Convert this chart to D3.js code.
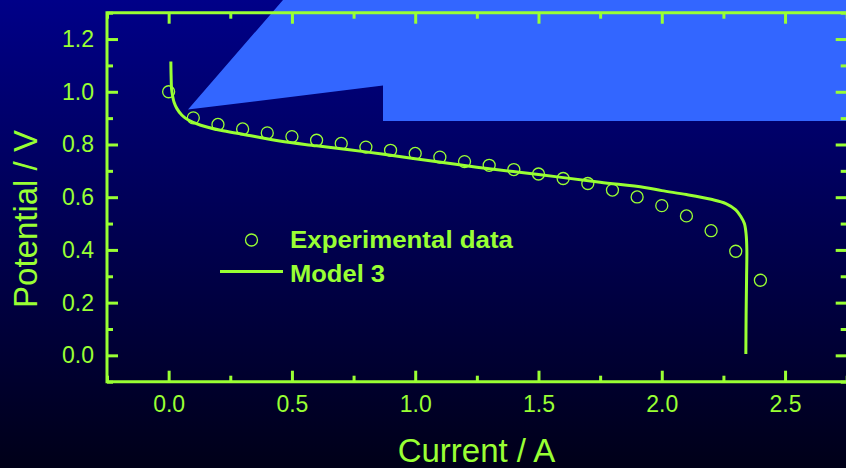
<!DOCTYPE html>
<html><head><meta charset="utf-8">
<script src="https://cdn.jsdelivr.net/npm/d3@7"></script>
<style>html,body{margin:0;padding:0;background:#000040;} svg{display:block}</style>
</head><body>
<svg id="chart" width="846" height="468"></svg>
<script>
// ---- data ----
const expCurrent = [0.0,0.1,0.2,0.3,0.4,0.5,0.6,0.7,0.8,0.9,1.0,1.1,1.2,1.3,1.4,1.5,1.6,1.7,1.8,1.9,2.0,2.1,2.2,2.3,2.4];
const expPotential = [1.00,0.901,0.876,0.859,0.844,0.830,0.816,0.804,0.790,0.778,0.766,0.752,0.735,0.721,0.705,0.688,0.671,0.652,0.627,0.601,0.568,0.529,0.473,0.395,0.285];
const modelCurrent = [0.009,0.010,0.012,0.016,0.022,0.033,0.054,0.080,0.13,0.21,0.30,0.45,0.60,0.80,1.00,1.25,1.50,1.75,1.93,2.00,2.10,2.20,2.26,2.30,2.32,2.335,2.342,2.345,2.344,2.342,2.341];
const modelPotential = [1.115,1.06,1.01,0.985,0.960,0.937,0.911,0.893,0.873,0.854,0.839,0.813,0.795,0.772,0.746,0.714,0.686,0.657,0.637,0.625,0.610,0.592,0.576,0.552,0.528,0.500,0.460,0.40,0.30,0.15,0.005];
const xTicks = [0.0,0.5,1.0,1.5,2.0,2.5];
const xMinorTicks = [-0.25,0.25,0.75,1.25,1.75,2.25,2.75];
const yTicks = [0.0,0.2,0.4,0.6,0.8,1.0,1.2];
const yMinorTicks = [-0.1,0.1,0.3,0.5,0.7,0.9,1.1,1.3];
const legendLabels = ["Experimental data","Model 3"];
const xTitle = "Current / A";
const yTitle = "Potential / V";

// ---- layout ----
const W = 846, H = 468;
const green = "#99ff33";
const svg = d3.select("#chart");
const defs = svg.append("defs");
const grad = defs.append("linearGradient").attr("id","bg").attr("x1",0).attr("y1",0).attr("x2",0).attr("y2",1);
grad.append("stop").attr("offset","0%").attr("stop-color","#000088");
grad.append("stop").attr("offset","100%").attr("stop-color","#000018");
svg.append("rect").attr("width",W).attr("height",H).attr("fill","url(#bg)");

// decorative callout shape
svg.append("polygon")
  .attr("points","283,0 846,0 846,121 383,121 383,85.5 188,109.5")
  .attr("fill","#3366ff");

const x = d3.scaleLinear().domain([-0.25,2.75]).range([107,846.7]);
const y = d3.scaleLinear().domain([-0.1,1.3]).range([381.7,12.7]);
const font = "'Liberation Sans', Arial, sans-serif";

function styleAxis(g){
  g.select(".domain").remove();
  g.selectAll("line").attr("stroke",green).attr("stroke-width",3);
  g.selectAll("text").attr("fill",green).attr("font-family",font).attr("font-size",23);
}
// bottom
svg.append("g").attr("transform",`translate(0,${y.range()[0]})`)
  .call(d3.axisBottom(x).tickValues(xTicks).tickSize(-11).tickPadding(14).tickFormat(d3.format(".1f"))).call(styleAxis);
svg.append("g").attr("transform",`translate(0,${y.range()[0]})`)
  .call(d3.axisBottom(x).tickValues(xMinorTicks).tickSize(-6).tickFormat("")).call(styleAxis);
// top
svg.append("g").attr("transform",`translate(0,${y.range()[1]})`)
  .call(d3.axisTop(x).tickValues(xTicks).tickSize(-11).tickFormat("")).call(styleAxis);
svg.append("g").attr("transform",`translate(0,${y.range()[1]})`)
  .call(d3.axisTop(x).tickValues(xMinorTicks).tickSize(-6).tickFormat("")).call(styleAxis);
// left
svg.append("g").attr("transform",`translate(${x.range()[0]},0)`)
  .call(d3.axisLeft(y).tickValues(yTicks).tickSize(-11).tickPadding(13).tickFormat(d3.format(".1f"))).call(styleAxis);
svg.append("g").attr("transform",`translate(${x.range()[0]},0)`)
  .call(d3.axisLeft(y).tickValues(yMinorTicks).tickSize(-6).tickFormat("")).call(styleAxis);
// right (axis line just past the visible edge)
svg.append("g").attr("transform",`translate(${x.range()[1]},0)`)
  .call(d3.axisRight(y).tickValues(yTicks).tickSize(-11).tickFormat("")).call(styleAxis);
svg.append("g").attr("transform",`translate(${x.range()[1]},0)`)
  .call(d3.axisRight(y).tickValues(yMinorTicks).tickSize(-6).tickFormat("")).call(styleAxis);

// frame (left, top, bottom; right edge falls outside the view)
const fx0 = x.range()[0], fx1 = x.range()[1] + 3, fy0 = y.range()[1], fy1 = y.range()[0];
svg.append("path")
  .attr("d",`M${fx1},${fy0}H${fx0}V${fy1}H${fx1}`)
  .attr("fill","none").attr("stroke",green).attr("stroke-width",3).attr("stroke-linecap","square");

// axis titles
svg.append("text").attr("x",476.5).attr("y",461.5).attr("text-anchor","middle")
  .attr("fill",green).attr("font-family",font).attr("font-size",33).text(xTitle);
svg.append("text").attr("transform","translate(37,219) rotate(-90)").attr("text-anchor","middle")
  .attr("fill",green).attr("font-family",font).attr("font-size",33).text(yTitle);

// model line
const modelData = modelCurrent.map((c,i)=>[c,modelPotential[i]]);
svg.append("path").datum(modelData)
  .attr("d",d3.line().x(d=>x(d[0])).y(d=>y(d[1])).curve(d3.curveCatmullRom.alpha(0.5)))
  .attr("fill","none").attr("stroke",green).attr("stroke-width",3).attr("stroke-linecap","butt");

// experimental points
svg.append("g").selectAll("circle").data(expCurrent.map((c,i)=>[c,expPotential[i]])).join("circle")
  .attr("cx",d=>x(d[0])).attr("cy",d=>y(d[1])).attr("r",6)
  .attr("fill","none").attr("stroke",green).attr("stroke-width",1.3);

// legend
const lg = svg.append("g");
lg.append("circle").attr("cx",251.5).attr("cy",240).attr("r",6)
  .attr("fill","none").attr("stroke",green).attr("stroke-width",1.3);
lg.append("line").attr("x1",220).attr("x2",283).attr("y1",271.5).attr("y2",271.5)
  .attr("stroke",green).attr("stroke-width",3);
lg.append("text").attr("x",290).attr("y",247.5).attr("fill",green).attr("font-family",font)
  .attr("font-weight","bold").attr("font-size",24).attr("textLength",223).attr("lengthAdjust","spacingAndGlyphs").text(legendLabels[0]);
lg.append("text").attr("x",290).attr("y",281.5).attr("fill",green).attr("font-family",font)
  .attr("font-weight","bold").attr("font-size",24).attr("textLength",95).attr("lengthAdjust","spacingAndGlyphs").text(legendLabels[1]);
</script>
</body></html>
